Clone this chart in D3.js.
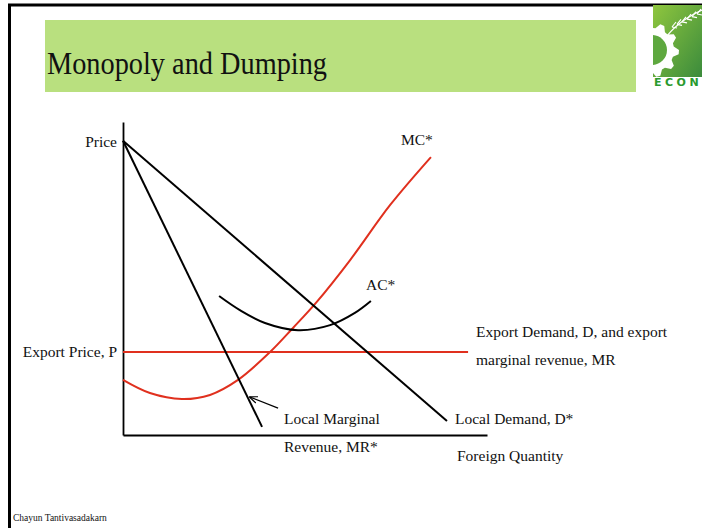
<!doctype html>
<html>
  <head>
    <meta charset="utf-8">
    <title>Monopoly and Dumping</title>
    <script src="https://cdnjs.cloudflare.com/ajax/libs/d3/7.8.5/d3.min.js"></script>
    <style>
      body { margin: 0; background: #fff; }
      svg text { font-family: "Liberation Serif", "Times New Roman", serif; fill: #111; }
    </style>
  </head>
  <body>
    <div id="chart"></div>
    <script>
    // curves, as (quantity, price) on a 0-100 grid
    const localDemand = [[0, 94], [89, 4.5]];
    const localMR = [[0, 94], [38.2, 2.6]];
    const exportPrice = [[0, 26.5], [94.8, 26.5]];
    const mcCurve = [[0, 17.6], [7.4, 13.4], [16.2, 11.5], [23.9, 12.8], [31.6, 17.6],
                     [40.4, 26.5], [46.7, 34.2], [53.0, 42.2], [62.4, 55.9], [73.4, 73.5], [84.6, 88.8]];
    const acCurve = [[26.4, 44.4], [32.1, 39.9], [39.0, 35.8], [48.1, 33.5], [56.9, 35.1], [63.7, 39.0], [68.1, 42.8]];
    const mrArrow = [[42.6, 8.6], [34.9, 12.1]];

    const red = "#e0301e";

    const svg = d3.select("#chart").append("svg")
      .attr("width", 702)
      .attr("height", 528);

    svg.append("rect").attr("width", 702).attr("height", 528).attr("fill", "#fff");

    // slide frame (top + left)
    svg.append("line").attr("x1", 8).attr("y1", 5).attr("x2", 702).attr("y2", 5)
      .attr("stroke", "#000").attr("stroke-width", 3);
    svg.append("line").attr("x1", 9.5).attr("y1", 4).attr("x2", 9.5).attr("y2", 528)
      .attr("stroke", "#000").attr("stroke-width", 3);

    // title band
    svg.append("rect").attr("x", 45).attr("y", 20).attr("width", 591).attr("height", 72).attr("fill", "#b9e07f");
    svg.append("text").attr("x", 47).attr("y", 74)
      .attr("font-size", 32).attr("textLength", 280).attr("lengthAdjust", "spacingAndGlyphs")
      .text("Monopoly and Dumping");

    // logo
    const defs = svg.append("defs");
    const grad = defs.append("linearGradient").attr("id", "logoGrad")
      .attr("x1", 0).attr("y1", 0).attr("x2", 1).attr("y2", 1);
    grad.append("stop").attr("offset", 0).attr("stop-color", "#8fc63e");
    grad.append("stop").attr("offset", 1).attr("stop-color", "#3b8b3c");
    defs.append("clipPath").attr("id", "logoClip")
      .append("rect").attr("x", 653).attr("y", 5).attr("width", 49).attr("height", 72);
    defs.append("marker").attr("id", "arrowHead")
      .attr("viewBox", "0 0 10 10").attr("refX", 9).attr("refY", 5)
      .attr("markerWidth", 7).attr("markerHeight", 7).attr("orient", "auto")
      .append("path").attr("d", "M0,1 L10,5 L0,9").attr("fill", "none").attr("stroke", "#000").attr("stroke-width", 1.4);

    const logo = svg.append("g").attr("clip-path", "url(#logoClip)");
    logo.append("rect").attr("x", 653).attr("y", 5).attr("width", 49).attr("height", 72).attr("fill", "url(#logoGrad)");
    // gear
    const gcx = 652, gcy = 50, teeth = 10;
    let gearPts = [];
    for (let i = 0; i < teeth * 4; i++) {
      const a = (i / (teeth * 4)) * 2 * Math.PI;
      const r = (i % 4 === 0 || i % 4 === 1) ? 27 : 22;
      gearPts.push([gcx + r * Math.cos(a), gcy + r * Math.sin(a)]);
    }
    logo.append("path").attr("d", d3.line()(gearPts) + "Z").attr("fill", "#fff");
    logo.append("circle").attr("cx", gcx).attr("cy", gcy).attr("r", 15).attr("fill", "#5ea83f");
    // wheat
    const wheat = logo.append("g").attr("stroke", "#fff").attr("fill", "none").attr("stroke-width", 1.2);
    wheat.append("path").attr("d", "M664,40 Q676,22 702,10");
    for (let k = 0; k < 6; k++) {
      const bx = 672 + k * 5, by = 27 - k * 2.6;
      wheat.append("path").attr("d", `M${bx},${by} l4,-5`);
      wheat.append("path").attr("d", `M${bx},${by} l5,1`);
    }
    svg.append("text").attr("x", 654).attr("y", 86)
      .attr("font-weight", "bold").attr("font-size", 11)
      .attr("letter-spacing", 3.5).style("font-family", "DejaVu Sans").style("fill", "#2a9a2e").text("ECON");

    // chart
    const x = d3.scaleLinear().domain([0, 100]).range([123, 487]);
    const y = d3.scaleLinear().domain([0, 100]).range([435, 122]);

    svg.append("g").attr("transform", `translate(${x(0)},0)`)
      .call(d3.axisLeft(y).ticks(0).tickSizeOuter(0))
      .select(".domain").attr("stroke", "#000").attr("stroke-width", 1.8);
    svg.append("g").attr("transform", `translate(0,${y(0)})`)
      .call(d3.axisBottom(x).ticks(0).tickSizeOuter(0))
      .select(".domain").attr("stroke", "#000").attr("stroke-width", 1.8);

    const line = d3.line().x(d => x(d[0])).y(d => y(d[1]));
    const smooth = d3.line().x(d => x(d[0])).y(d => y(d[1])).curve(d3.curveCatmullRom);

    svg.append("path").attr("d", line(exportPrice)).attr("fill", "none").attr("stroke", red).attr("stroke-width", 2);
    svg.append("path").attr("d", smooth(mcCurve)).attr("fill", "none").attr("stroke", red).attr("stroke-width", 2);
    svg.append("path").attr("d", smooth(acCurve)).attr("fill", "none").attr("stroke", "#000").attr("stroke-width", 2);
    svg.append("path").attr("d", line(localDemand)).attr("fill", "none").attr("stroke", "#000").attr("stroke-width", 2);
    svg.append("path").attr("d", line(localMR)).attr("fill", "none").attr("stroke", "#000").attr("stroke-width", 2);
    svg.append("path").attr("d", line(mrArrow)).attr("fill", "none").attr("stroke", "#000").attr("stroke-width", 1.2)
      .attr("marker-end", "url(#arrowHead)");

    // labels
    const labels = [
      { t: "Price", x: 117, y: 147, a: "end" },
      { t: "MC*", x: 401, y: 145, a: "start" },
      { t: "AC*", x: 366, y: 290, a: "start" },
      { t: "Export Price, P", x: 117, y: 357, a: "end" },
      { t: "Export Demand, D, and export", x: 476, y: 337, a: "start" },
      { t: "marginal revenue, MR", x: 476, y: 365, a: "start" },
      { t: "Local Marginal", x: 284, y: 424, a: "start" },
      { t: "Revenue, MR*", x: 284, y: 452, a: "start" },
      { t: "Local Demand, D*", x: 455, y: 424, a: "start" },
      { t: "Foreign Quantity", x: 457, y: 461, a: "start" }
    ];
    svg.selectAll("text.lbl").data(labels).join("text")
      .attr("class", "lbl")
      .attr("x", d => d.x).attr("y", d => d.y)
      .attr("text-anchor", d => d.a)
      .attr("font-size", 15.5)
      .text(d => d.t);

    svg.append("text").attr("x", 13).attr("y", 521).attr("font-size", 9.5).text("Chayun Tantivasadakarn");
    </script>
  </body>
</html>
